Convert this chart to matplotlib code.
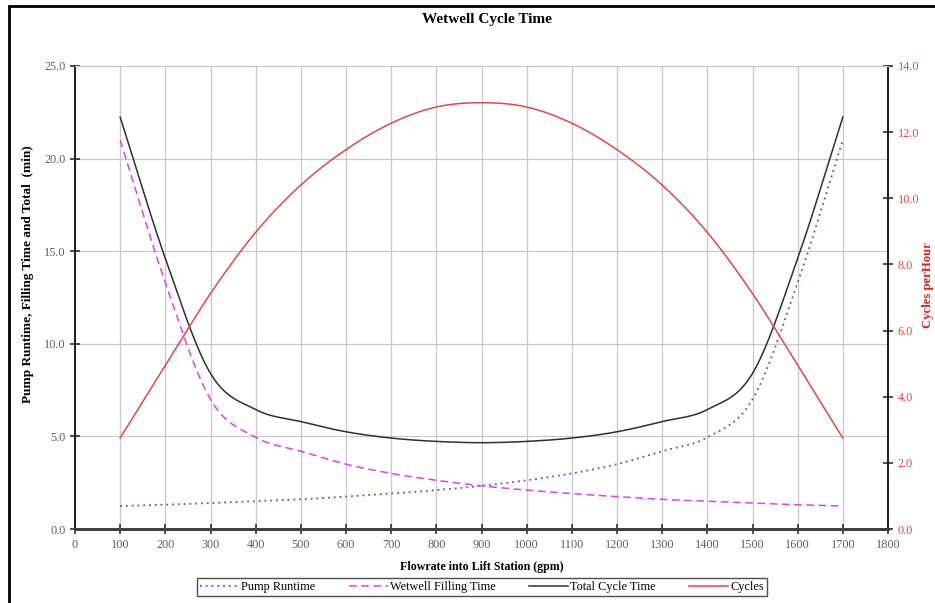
import numpy as np
import matplotlib
matplotlib.use("Agg")
from matplotlib import pyplot as plt
from matplotlib.patches import Rectangle
from matplotlib.lines import Line2D

# flowrate into lift station (gpm)
flow = [100, 200, 300, 400, 500, 600, 700, 800, 900,
        1000, 1100, 1200, 1300, 1400, 1500, 1600, 1700]

# times in minutes (left axis)
pump_runtime = [1.24, 1.31, 1.40, 1.50, 1.60, 1.75, 1.91, 2.10, 2.33,
                2.63, 3.00, 3.50, 4.20, 4.95, 7.00, 13.30, 21.00]
filling_time = [21.00, 13.30, 7.00, 4.95, 4.20, 3.50, 3.00, 2.63, 2.33,
                2.10, 1.91, 1.75, 1.60, 1.50, 1.40, 1.31, 1.24]
total_time = [22.24, 14.61, 8.40, 6.45, 5.80, 5.25, 4.91, 4.73, 4.66,
              4.73, 4.91, 5.25, 5.80, 6.45, 8.40, 14.61, 22.24]

# cycles per hour (right axis)
cycles = [2.75, 4.95, 7.12, 8.97, 10.40, 11.47, 12.27, 12.76, 12.89,
          12.76, 12.27, 11.47, 10.40, 8.97, 7.12, 4.95, 2.75]

x_ticks = list(range(0, 1900, 100))
left_ticks = [0, 5, 10, 15, 20, 25]
right_ticks = [0, 2, 4, 6, 8, 10, 12, 14]

C_PUMP = '#5a4fe0'
C_FILL = '#e040e8'
C_TOTAL = '#303030'
C_CYC = '#e04848'
C_GRID = '#c8c8c8'
C_TICK = '#606060'


def smooth(x, y, n=30):
    """Catmull-Rom curve through the points, like a spreadsheet 'smoothed line'."""
    x = np.asarray(x, float)
    y = np.asarray(y, float)
    px = np.concatenate([[2*x[0]-x[1]], x, [2*x[-1]-x[-2]]])
    py = np.concatenate([[2*y[0]-y[1]], y, [2*y[-1]-y[-2]]])
    xs, ys = [], []
    t = np.linspace(0, 1, n, endpoint=False)
    for i in range(1, len(px)-2):
        for arr, out in ((px, xs), (py, ys)):
            p0, p1, p2, p3 = arr[i-1], arr[i], arr[i+1], arr[i+2]
            m1 = (p2 - p0)/2
            m2 = (p3 - p1)/2
            h00 = 2*t**3 - 3*t**2 + 1
            h10 = t**3 - 2*t**2 + t
            h01 = -2*t**3 + 3*t**2
            h11 = t**3 - t**2
            out.extend(h00*p1 + h10*m1 + h01*p2 + h11*m2)
    xs.append(x[-1])
    ys.append(y[-1])
    return np.array(xs), np.array(ys)


plt.rcParams['font.family'] = ['Liberation Serif', 'DejaVu Serif']

fig = plt.figure(figsize=(9.35, 6.03), dpi=100)
ax = fig.add_axes([75/935, 1-529/603, (888-75)/935, (529-66)/603])
ax2 = ax.twinx()

ax.plot(*smooth(flow, pump_runtime), color=C_PUMP, lw=1.3, ls=(0, (1, 2.2)))
ax.plot(*smooth(flow, filling_time), color=C_FILL, lw=1.1, ls=(0, (5, 3)))
ax.plot(*smooth(flow, total_time), color=C_TOTAL, lw=1.1)
ax2.plot(*smooth(flow, cycles), color=C_CYC, lw=1.1)

ax.set_xlim(0, 1800)
ax.set_ylim(0, 25)
ax2.set_ylim(0, 14)
ax.set_xticks(x_ticks)
ax.set_yticks(left_ticks)
ax.set_yticklabels([f'{v:.1f}' for v in left_ticks])
ax2.set_yticks(right_ticks)
ax2.set_yticklabels([f'{v:.1f}' for v in right_ticks])

ax.grid(True, color=C_GRID, lw=0.9)
ax.set_axisbelow(True)

ax.tick_params(axis='both', direction='inout', length=7, width=1.2,
               labelsize=8.8, labelcolor=C_TICK, color='#303030')
ax2.tick_params(axis='y', direction='inout', length=7, width=1.2,
                labelsize=8.8, labelcolor=C_CYC, color='#303030')

for a in (ax, ax2):
    a.spines['top'].set_color(C_GRID)
    a.spines['left'].set_color('#202020')
    a.spines['left'].set_linewidth(1.3)
    a.spines['right'].set_color('#202020')
    a.spines['right'].set_linewidth(1.3)
    a.spines['bottom'].set_color('#404040')
    a.spines['bottom'].set_linewidth(2.0)

fig.text(487/935, 1-20/603, 'Wetwell Cycle Time', ha='center', va='center',
         fontsize=11, fontweight='bold')
fig.text(482/935, 1-567/603, 'Flowrate into Lift Station (gpm)', ha='center',
         va='center', fontsize=8.6, fontweight='bold')
fig.text(28/935, 1-274/603, 'Pump Runtime, Filling Time and Total  (min)',
         ha='center', va='center', rotation=90, fontsize=9.5, fontweight='bold')
fig.text(928/935, 1-285/603, 'Cycles perHour', ha='center', va='center',
         rotation=90, fontsize=9.2, fontweight='bold', color='#e02020')

handles = [
    Line2D([], [], color=C_PUMP, lw=1.3, ls=(0, (1, 2.2))),
    Line2D([], [], color=C_FILL, lw=1.1, ls=(0, (5, 3))),
    Line2D([], [], color=C_TOTAL, lw=1.1),
    Line2D([], [], color=C_CYC, lw=1.1),
]
labels = ['Pump Runtime', 'Wetwell Filling Time', 'Total Cycle Time', 'Cycles']
leg = fig.legend(handles, labels, loc='center', ncol=4,
                 bbox_to_anchor=(482/935, 1-587/603), fontsize=8.8,
                 frameon=True, fancybox=False, edgecolor='#202020',
                 handlelength=3.2, handletextpad=0.2, columnspacing=2.7,
                 borderpad=0.25)
leg.get_frame().set_linewidth(1.0)

# outer chart border (runs off the right and bottom edges)
fig.patches.append(Rectangle((9/935, -0.05), 1.0, 1.05 - 6/603,
                             transform=fig.transFigure, fill=False,
                             edgecolor='black', lw=2.0))

fig.savefig('out.png', dpi=100)
